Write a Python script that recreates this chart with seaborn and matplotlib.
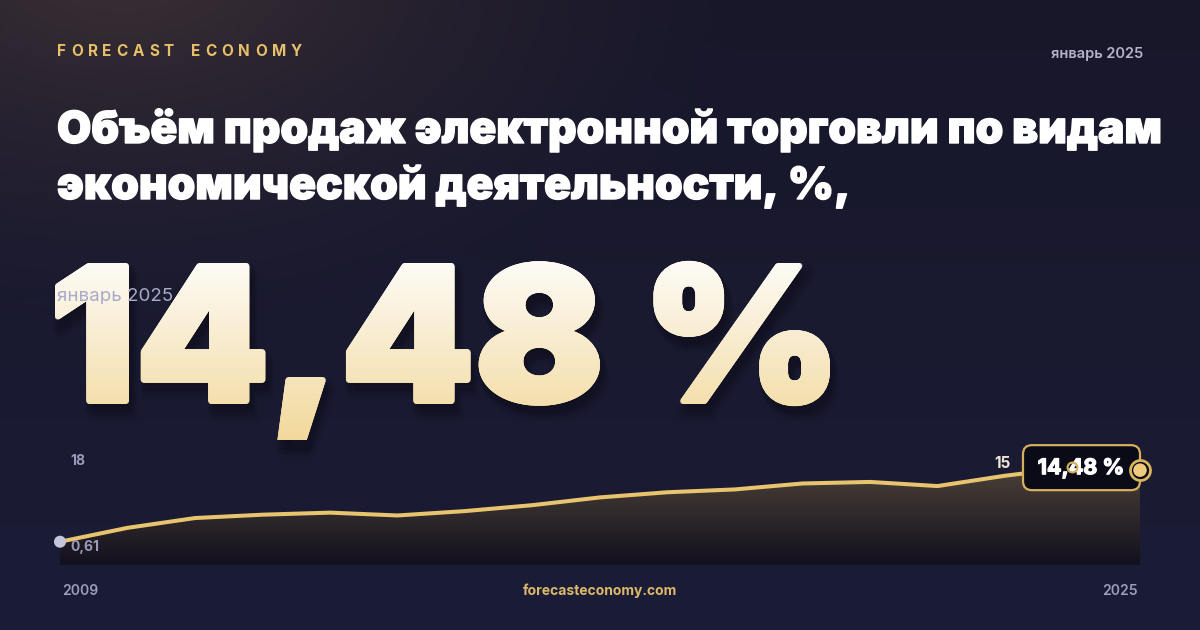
import numpy as np
import pandas as pd
import matplotlib
matplotlib.use("Agg")
import matplotlib.pyplot as plt
import matplotlib.transforms as mtransforms
import matplotlib.patheffects as pe
from matplotlib.patches import PathPatch, FancyBboxPatch
from matplotlib.textpath import TextPath
from matplotlib.font_manager import FontProperties
import seaborn as sns

# ---------------- data ----------------
years = [2009, 2010, 2011, 2012, 2013, 2014, 2015, 2016, 2017,
         2018, 2019, 2020, 2021, 2022, 2023, 2024, 2025]
values = [0.61, 3.3, 5.2, 5.85, 6.25, 5.7, 6.55, 7.7, 9.2,
          10.2, 10.75, 11.9, 12.2, 11.4, 13.4, 15.0, 14.48]
axis_top_label = "18"
axis_top_value = 18.0
axis_bottom_value = -3.9
brand = "FORECAST ECONOMY"
period = "январь 2025"
title_lines = ["Объём продаж электронной торговли по видам",
               "экономической деятельности, %,"]
big_value = "14,48 %"
min_label = "0,61"
max_label = "15"
end_label = "14,48 %"
start_year_label = "2009"
end_year_label = "2025"
site = "forecasteconomy.com"

df = pd.DataFrame({"year": years, "value": values})

W, H = 1200, 630
sns.set_theme(style="white")
plt.rcParams["font.family"] = ["Inter", "DejaVu Sans"]

fig = plt.figure(figsize=(W / 100, H / 100), dpi=100)
px = mtransforms.Affine2D().scale(1 / W, -1 / H).translate(0, 1) + fig.transFigure

# ---------------- background ----------------
bg = fig.add_axes([0, 0, 1, 1], zorder=0)
bg.set_xlim(0, W)
bg.set_ylim(H, 0)
bg.axis("off")
yy, xx = np.mgrid[0:H, 0:W]
t = yy / H
base = np.zeros((H, W, 3))
top_c = np.array([24, 23, 42]) / 255
bot_c = np.array([27, 28, 54]) / 255
for k in range(3):
    base[..., k] = top_c[k] * (1 - t) + bot_c[k] * t
d = np.sqrt(((xx - 120) / 650.0) ** 2 + ((yy + 40) / 380.0) ** 2)
glow = np.clip(1 - d, 0, 1) ** 1.5
warm = np.array([36, 25, 10]) / 255
for k in range(3):
    base[..., k] += warm[k] * glow
bg.imshow(np.clip(base, 0, 1), extent=(0, W, H, 0), origin="upper",
          aspect="auto", zorder=0, interpolation="bilinear")

# ---------------- header texts ----------------
fig.canvas.draw()
renderer = fig.canvas.get_renderer()
chars = list(brand)
widths = []
for ch in chars:
    tt = bg.text(0, 0, ch if ch != " " else "\u2002", fontsize=11, fontweight="bold")
    widths.append(tt.get_window_extent(renderer).width)
    tt.remove()
tracking = (302 - 57 - sum(widths)) / (len(chars) - 1)
cx = 57.0
for ch, w in zip(chars, widths):
    if ch != " ":
        bg.text(cx, 52, ch, color="#e6c06a", fontsize=11, fontweight="bold",
                ha="left", va="center", zorder=3)
    cx += w + tracking

bg.text(1143, 54, period, color="#b4b5cc", fontsize=10.5, fontweight="semibold",
        ha="right", va="center", zorder=3)
title_fx = [pe.withStroke(linewidth=1.0, foreground="white")]
for i, line in enumerate(title_lines):
    bg.text(57, 143 + 56 * i, line, color="white", fontsize=31.9, fontweight=900,
            ha="left", va="baseline", zorder=3, path_effects=title_fx)

# ---------------- big number with gradient ----------------
fp = FontProperties(family="Inter", weight=900)
tp = TextPath((0, 0), big_value, size=100, prop=fp)
ext = tp.get_extents()
h1 = TextPath((0, 0), "1", size=100, prop=fp).get_extents().y1
r = 2.5
sy = (404 - 263 - 2 * r) / h1
sx = (830 - 55 - 2 * r) / ext.width
tr = mtransforms.Affine2D().translate(-ext.x0, 0).scale(sx, -sy).translate(55 + r, 404 - r)
big_path = tr.transform_path(tp)
for off, a in [((2, 5), 0.08), ((4, 9), 0.07), ((6, 13), 0.05)]:
    sh = mtransforms.Affine2D().translate(*off).transform_path(big_path)
    bg.add_patch(PathPatch(sh, facecolor="black", edgecolor="black", linewidth=8,
                           alpha=a, zorder=3))
g = np.linspace(0, 1, 256)[:, None]
c_top = np.array([254, 253, 250]) / 255
c_bot = np.array([242, 216, 155]) / 255
grad = np.zeros((256, 2, 3))
for k in range(3):
    grad[..., k] = c_top[k] * (1 - g) + c_bot[k] * g
angles = np.linspace(0, 2 * np.pi, 16, endpoint=False)
offsets = [(0.0, 0.0)] + [(r * np.cos(a), r * np.sin(a)) for a in angles] + \
          [(r * 0.5 * np.cos(a), r * 0.5 * np.sin(a)) for a in angles[::2]]
for dx, dy in offsets:
    p = mtransforms.Affine2D().translate(dx, dy).transform_path(big_path)
    cp = PathPatch(p, facecolor="none", edgecolor="none", zorder=4)
    bg.add_patch(cp)
    im = bg.imshow(grad, extent=(40, 860, 440, 255), origin="upper", aspect="auto",
                   zorder=4, interpolation="bilinear")
    im.set_clip_path(cp)
bg.set_xlim(0, W)
bg.set_ylim(H, 0)

bg.text(57, 296, period, color="#a9abc8", fontsize=13.5, fontweight="normal",
        ha="left", va="center", zorder=6)

# ---------------- chart ----------------
top_px, bot_px, left_px, right_px = 452, 565, 60, 1140
ax = fig.add_axes([left_px / W, (H - bot_px) / H, (right_px - left_px) / W,
                   (bot_px - top_px) / H], zorder=1)
ax.set_facecolor("none")
ax.patch.set_alpha(0)
ax.axis("off")

poly = ax.fill_between(df["year"], df["value"], axis_bottom_value,
                       color="none", linewidth=0)
ga = np.linspace(0, 1, 256)[:, None]
f_bot = np.array([18, 16, 30]) / 255
f_top = np.array([76, 65, 56]) / 255
fgrad = np.zeros((256, 2, 4))
for k in range(3):
    fgrad[..., k] = f_bot[k] * (1 - ga) + f_top[k] * ga
fgrad[..., 3] = 1
fim = ax.imshow(fgrad, extent=(years[0], years[-1], axis_bottom_value, max(values)),
                origin="lower", aspect="auto", zorder=1, interpolation="bilinear")
fim.set_clip_path(poly.get_paths()[0], transform=ax.transData)

sns.lineplot(data=df, x="year", y="value", ax=ax, color="#e9c46f",
             linewidth=2.9, zorder=3, legend=False)
ax.lines[-1].set_solid_joinstyle("round")
ax.set_xlim(years[0], years[-1])
ax.set_ylim(axis_bottom_value, axis_top_value)

fig.canvas.draw()
ex, ey = ax.transData.transform((years[-1], values[-1]))
ey = H - ey
imax = int(np.argmax(values))
mx, my = ax.transData.transform((years[imax], values[imax]))
my = H - my

# start marker
ax.scatter([years[0]], [values[0]], s=75, color="#c3c6dd", edgecolor="none",
           zorder=6, clip_on=False)

# end label box
box = FancyBboxPatch((ex - 117, ey - 25), 117, 45,
                     boxstyle="round,pad=0,rounding_size=9",
                     facecolor="#0b0b17", edgecolor="#d6af5c", linewidth=1.6,
                     transform=px, zorder=7, clip_on=False)
ax.add_patch(box)
ax.text(ex - 59, ey - 2, end_label, transform=px, color="white", fontsize=15.5,
        fontweight="bold", ha="center", va="center", zorder=8, clip_on=False,
        path_effects=[pe.withStroke(linewidth=0.9, foreground="white")])

# max marker and label
ax.scatter([years[imax]], [values[imax]], s=50, facecolor="none",
           edgecolor="#d6af5c", linewidth=1.5, zorder=9, clip_on=False)
ax.text(ex - 129, my - 4, max_label, transform=px, color="#efe6d4", fontsize=11,
        fontweight="bold", ha="right", va="center", zorder=8, clip_on=False)

# end marker
ax.scatter([years[-1]], [values[-1]], s=207, facecolor="#0b0b17",
           edgecolor="#d9b45e", linewidth=2.0, zorder=9, clip_on=False)
ax.scatter([years[-1]], [values[-1]], s=95, facecolor="#eecb7b", marker="o",
           edgecolor="none", zorder=10, clip_on=False)

# axis value labels
ax.text(70, 461, axis_top_label, transform=px, color="#9a9bb8", fontsize=10,
        fontweight="bold", ha="left", va="center", zorder=8, clip_on=False)
ax.text(70, 547, min_label, transform=px, color="#9a9bb8", fontsize=10,
        fontweight="bold", ha="left", va="center", zorder=8, clip_on=False)

# footer
bg.text(62, 591, start_year_label, color="#9c9eba", fontsize=10, fontweight="semibold",
        ha="left", va="center", zorder=3)
bg.text(1138, 591, end_year_label, color="#9c9eba", fontsize=10, fontweight="semibold",
        ha="right", va="center", zorder=3)
bg.text(600, 591, site, color="#dcb86c", fontsize=10, fontweight="bold",
        ha="center", va="center", zorder=3)

fig.savefig("out.png", dpi=100, facecolor="#17172b")
